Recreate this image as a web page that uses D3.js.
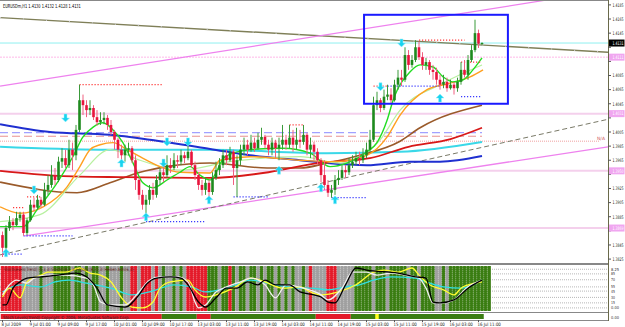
<!DOCTYPE html>
<html><head><meta charset="utf-8">
<script src="https://cdn.jsdelivr.net/npm/d3@7"></script>
<style>body{margin:0;background:#fff;overflow:hidden}svg{display:block;font-family:"DejaVu Sans",sans-serif}</style>
</head><body><svg id="c" width="625" height="327"></svg>
<script>
// ---------- DATA ----------
const symbolTitle = "EURUSDm,H1  1.4130 1.4132 1.4128 1.4131";
const opens = [1.3859,1.3841,1.3869,1.3878,1.3873,1.3883,1.3888,1.3862,1.3880,1.3902,
1.3898,1.3909,1.3902,1.3923,1.3930,1.3944,1.3937,1.3963,1.3968,1.3958,
1.3980,1.3972,1.4008,1.4050,1.4043,1.4036,1.4039,1.4026,1.4019,1.4022,
1.4025,1.4015,1.4005,1.3994,1.3980,1.3972,1.3980,1.3982,1.3965,1.3937,
1.3916,1.3902,1.3909,1.3923,1.3916,1.3937,1.3948,1.3944,1.3958,1.3954,
1.3965,1.3963,1.3972,1.3968,1.3977,1.3958,1.3944,1.3930,1.3923,1.3933,
1.3920,1.3940,1.3951,1.3958,1.3972,1.3965,1.3977,1.3954,1.3965,1.3980,
1.3987,1.3980,1.3990,1.3982,1.3994,1.3998,1.3987,1.3980,1.3990,1.3982,
1.3987,1.3994,1.3987,1.3997,1.3987,1.3994,1.3991,1.4001,1.3980,1.3987,
1.3977,1.3965,1.3944,1.3930,1.3919,1.3923,1.3937,1.3940,1.3951,1.3948,
1.3958,1.3963,1.3968,1.3965,1.3972,1.3980,1.3994,1.4043,1.4050,1.4039,
1.4055,1.4058,1.4050,1.4072,1.4082,1.4079,1.4114,1.4100,1.4107,1.4125,
1.4111,1.4100,1.4104,1.4093,1.4090,1.4079,1.4072,1.4076,1.4067,1.4072,
1.4067,1.4076,1.4093,1.4086,1.4107,1.4121,1.4145,1.4130];
const highs = [1.3864,1.3873,1.3886,1.3883,1.3892,1.3892,1.3892,1.3883,1.3909,1.3912,
1.3916,1.3913,1.3933,1.3944,1.3958,1.3954,1.3970,1.3982,1.3980,1.3994,
1.3990,1.4015,1.4072,1.4058,1.4050,1.4050,1.4043,1.4036,1.4033,1.4033,
1.4029,1.4022,1.4008,1.3997,1.3987,1.3987,1.3990,1.3985,1.3972,1.3940,
1.3923,1.3916,1.3930,1.3933,1.3944,1.3954,1.3956,1.3972,1.3968,1.3975,
1.3972,1.3980,1.3977,1.3985,1.3980,1.3963,1.3948,1.3937,1.3940,1.3937,
1.3948,1.3963,1.3968,1.3980,1.3980,1.3984,1.3980,1.3972,1.3987,1.3997,
1.3994,1.4001,1.3997,1.4004,1.4011,1.4001,1.3994,1.3997,1.3994,1.3997,
1.4015,1.4001,1.4015,1.4008,1.4011,1.4008,1.4015,1.4004,1.3997,1.3991,
1.3982,1.3968,1.3965,1.3937,1.3930,1.3944,1.3951,1.3958,1.3958,1.3968,
1.3972,1.3977,1.3977,1.3982,1.3990,1.4008,1.4055,1.4062,1.4053,1.4065,
1.4072,1.4067,1.4079,1.4093,1.4093,1.4125,1.4121,1.4114,1.4135,1.4133,
1.4118,1.4110,1.4107,1.4100,1.4096,1.4086,1.4086,1.4082,1.4079,1.4076,
1.4082,1.4104,1.4107,1.4114,1.4128,1.4164,1.4150,1.4132];
const lows = [1.3828,1.3838,1.3865,1.3866,1.3872,1.3878,1.3858,1.3859,1.3878,1.3892,
1.3895,1.3898,1.3900,1.3916,1.3926,1.3930,1.3934,1.3954,1.3954,1.3954,
1.3951,1.3965,1.4005,1.4029,1.4026,1.4029,1.4022,1.4014,1.4015,1.4016,
1.4008,1.4001,1.3980,1.3968,1.3965,1.3963,1.3972,1.3961,1.3923,1.3909,
1.3895,1.3890,1.3902,1.3909,1.3912,1.3930,1.3934,1.3940,1.3947,1.3951,
1.3954,1.3958,1.3961,1.3965,1.3954,1.3937,1.3923,1.3915,1.3916,1.3909,
1.3916,1.3937,1.3944,1.3954,1.3958,1.3963,1.3930,1.3913,1.3958,1.3972,
1.3972,1.3977,1.3977,1.3980,1.3987,1.3982,1.3972,1.3972,1.3968,1.3965,
1.3980,1.3980,1.3982,1.3977,1.3980,1.3982,1.3987,1.3972,1.3968,1.3965,
1.3958,1.3934,1.3923,1.3913,1.3912,1.3916,1.3930,1.3937,1.3940,1.3944,
1.3954,1.3958,1.3958,1.3961,1.3968,1.3977,1.3991,1.4036,1.4033,1.4036,
1.4050,1.4045,1.4048,1.4065,1.4070,1.4076,1.4093,1.4096,1.4104,1.4107,
1.4093,1.4093,1.4086,1.4079,1.4072,1.4065,1.4067,1.4062,1.4065,1.4058,
1.4062,1.4072,1.4082,1.4079,1.4104,1.4118,1.4124,1.4128];
const closes = [1.3841,1.3869,1.3878,1.3873,1.3883,1.3888,1.3862,1.3880,1.3902,1.3898,
1.3909,1.3902,1.3923,1.3930,1.3944,1.3937,1.3963,1.3968,1.3958,1.3980,
1.3972,1.4008,1.4050,1.4043,1.4036,1.4039,1.4026,1.4019,1.4022,1.4025,
1.4015,1.4005,1.3994,1.3980,1.3972,1.3980,1.3982,1.3965,1.3937,1.3916,
1.3902,1.3909,1.3923,1.3916,1.3937,1.3948,1.3944,1.3958,1.3954,1.3965,
1.3963,1.3972,1.3968,1.3977,1.3958,1.3944,1.3930,1.3923,1.3933,1.3920,
1.3940,1.3951,1.3958,1.3972,1.3965,1.3977,1.3954,1.3965,1.3980,1.3987,
1.3980,1.3990,1.3982,1.3994,1.3998,1.3987,1.3980,1.3990,1.3982,1.3987,
1.3994,1.3987,1.3997,1.3987,1.3994,1.3991,1.4001,1.3980,1.3987,1.3977,
1.3965,1.3944,1.3930,1.3919,1.3923,1.3937,1.3940,1.3951,1.3948,1.3958,
1.3963,1.3968,1.3965,1.3972,1.3980,1.3994,1.4043,1.4050,1.4039,1.4055,
1.4058,1.4050,1.4072,1.4082,1.4079,1.4114,1.4100,1.4107,1.4125,1.4111,
1.4100,1.4104,1.4093,1.4090,1.4079,1.4072,1.4076,1.4067,1.4072,1.4067,
1.4076,1.4093,1.4086,1.4107,1.4121,1.4145,1.4130,1.4131];

const priceTicks = [1.4185,1.4165,1.4145,1.4125,1.4105,1.4085,1.4065,1.4045,1.4025,1.4005,
1.3985,1.3965,1.3945,1.3925,1.3905,1.3885,1.3865,1.3845,1.3825];
const lastPrice = 1.4131;
const pinkLevels = [1.4111,1.4031,1.3950,1.3869];

const timeLabels = ["8 Jul 2009","9 Jul 01:00","9 Jul 09:00","9 Jul 17:00","10 Jul 01:00","10 Jul 09:00",
"10 Jul 17:00","13 Jul 03:00","13 Jul 11:00","13 Jul 19:00","14 Jul 03:00","14 Jul 11:00",
"14 Jul 19:00","15 Jul 03:00","15 Jul 11:00","15 Jul 19:00","16 Jul 03:00","16 Jul 11:00"];
const timeLabelBars = [0,8,16,24,32,40,48,56,64,72,80,88,96,104,112,120,128,136];

// moving averages: [bar, price]
const maBlue = [[-0.7,1.4016],[13.6,1.4005],[30.7,1.4001],[42.1,1.3994],[59.3,1.3981],[70.7,1.3972],[85,1.3965],[92.7,1.3961],[104.1,1.3958],[116.4,1.3963],[125,1.3963],[137,1.3971]];
const maRed = [[-0.7,1.3950],[16,1.3943],[34,1.3941],[59,1.3940],[76,1.3948],[90,1.3961],[105,1.3968],[116,1.3984],[128,1.3995],[137,1.4011]];
const maBrown = [[-0.7,1.3934],[21.3,1.3919],[30.7,1.3933],[39.3,1.3948],[47,1.3956],[59.3,1.3961],[75.6,1.3954],[85,1.3954],[92.7,1.3961],[102.1,1.3972],[113.6,1.3992],[119.3,1.4011],[137,1.4043]];
const maCyan = [[-0.7,1.3984],[27.9,1.3980],[59.3,1.3980],[92.7,1.3975],[113.6,1.3977],[137,1.3991]];
const maOrange = [[-0.7,1.3899],[5,1.3890],[11.6,1.3899],[18.4,1.3927],[22.1,1.3956],[25,1.3980],[27.9,1.3987],[31.6,1.3990],[35.6,1.3980],[39.3,1.3970],[45,1.3956],[50.7,1.3948],[59.3,1.3947],[62.1,1.3965],[70.7,1.3970],[85,1.3965],[94.4,1.3963],[104.1,1.3972],[109.9,1.3998],[113.6,1.4029],[121.3,1.4065],[127,1.4073],[133.6,1.4083],[137.3,1.4093]];
const maGreen = [[-0.7,1.3871],[5.9,1.3871],[9.9,1.3895],[15.6,1.3933],[20.1,1.3970],[23,1.3998],[25.9,1.4012],[28.7,1.4018],[31.6,1.4008],[34.4,1.3990],[37.3,1.3961],[40.1,1.3933],[43,1.3926],[47,1.3937],[50.7,1.3948],[53.6,1.3956],[56.4,1.3944],[59.3,1.3937],[63.6,1.3970],[70.7,1.3980],[80.1,1.3982],[87.9,1.3975],[93.6,1.3956],[98.4,1.3961],[104.1,1.3977],[107,1.3990],[109.9,1.4022],[111.6,1.4050],[116.4,1.4090],[119.3,1.4100],[123,1.4097],[125.9,1.4083],[128.7,1.4076],[131.6,1.4079],[134.4,1.4093],[137,1.4110]];
const maLightGreen = [[-0.7,1.3878],[10.7,1.3888],[22.1,1.3944],[30.7,1.3980],[39.3,1.3965],[50.7,1.3951],[65,1.3963],[85,1.3970],[96.4,1.3961],[107.9,1.3994],[113.6,1.4036],[125,1.4072],[137,1.4100]];

// trend lines: [[bar,price],[bar,price]]
const trendOlive = [[-0.7,1.4167],[173,1.4118]];
const trendUpperMagenta = [[-0.7,1.4070],[155.6,1.4192]];
const trendLowerMagenta = [[6.4,1.3858],[173,1.3984]];
const trendDashedGray = [[-0.7,1.3831],[173,1.4023]];
const cyanLevel = 1.4131;
const dashedLevels = [[1.4004,"#8a8aff"],[1.3999,"#e89090"]];
const dottedLevel = 1.3992;

// short dotted levels: [startBar, endBar, price]
const redDotted = [[22,46,1.4072],[106,110,1.4070],[119,132,1.4135],[131,137,1.4104],[3,6,1.3898],[7,11,1.3913],[82,86,1.4015]];
const blueDotted = [[0,6,1.3832],[6,20,1.3858],[41,58,1.3878],[66,76,1.3913],[94,104,1.3912],[110,125,1.4070],[131,137,1.4055]];

// signal arrows: [bar, price, direction]
const arrows = [[1,1.3834,"up"],[9,1.3923,"down"],[18,1.4025,"down"],[34,1.3961,"up"],[41,1.3885,"up"],[46,1.3961,"down"],[47,1.3991,"down"],[53,1.3991,"down"],[59,1.3909,"up"],[79,1.3951,"up"],[91,1.3926,"up"],[95,1.3909,"up"],[108,1.4069,"down"],[114,1.4131,"down"],[125,1.4053,"up"]];

// selection box: [startBar, endBar, topPrice, bottomPrice]
const boxArea = [103.3,144.4,1.4171,1.4045];

// indicator sub-window (0..100)
const histState = "rrrrrr"+"nnnnng"+"nnn"+"gggg"+"gnggngngg"+"nngnnngnn"+"rrnrrrnr"+"ngnngngn"+"rrrrrr"+"gggnggrgnggng"+"gngnggngngngnngnrnn"+"nn"+"rrr"+"nnnnng"+"ggggngggngggggnggnggggnngngggggggggggg";
const oscBlack = [[0,12],[1,12],[3,52],[5,67],[7,76],[11,79],[16,83],[21,88],[24,79],[27,52],[30,12],[35,7],[39,36],[41,60],[44,76],[48,79],[51,76],[53,60],[56,19],[58,7],[61,29],[64,52],[67,52],[70,67],[73,60],[75,71],[78,60],[82,60],[85,43],[89,36],[91,31],[93,19],[95,17],[98,60],[101,100],[104,95],[113,88],[118,79],[121,76],[123,19],[125,17],[129,24],[133,52],[137,71]];
const oscWhite = [[0,36],[2,60],[4,71],[7,64],[9,76],[13,83],[18,83],[24,76],[26,60],[28,19],[31,12],[35,12],[39,43],[42,71],[45,79],[50,79],[53,67],[55,19],[56,5],[58,12],[61,43],[64,55],[68,67],[71,76],[75,60],[78,29],[81,60],[86,52],[91,36],[93,24],[97,52],[100,90],[104,90],[107,83],[111,88],[115,83],[119,76],[121,52],[123,17],[126,17],[129,24],[133,55],[137,71]];
const oscYellow = [[0,31],[2,52],[5,29],[7,67],[11,83],[13,90],[18,90],[22,100],[25,88],[28,83],[31,67],[34,29],[37,7],[40,5],[43,19],[45,52],[48,67],[53,71],[55,48],[58,31],[61,36],[66,52],[71,76],[75,67],[80,52],[85,55],[88,43],[91,36],[96,43],[101,60],[106,90],[109,95],[113,90],[117,100],[119,83],[122,60],[126,48],[129,36],[131,52],[135,64],[137,67]];
const oscCyan = [[0,43],[5,60],[11,55],[15,67],[19,71],[24,64],[31,52],[37,36],[42,43],[49,60],[54,55],[58,43],[64,52],[71,71],[78,60],[85,52],[88,52],[93,48],[98,55],[102,60],[106,71],[111,79],[118,76],[121,67],[126,55],[131,52],[137,71]];
const oscLevels = [97,86,72,55,45,30,17,5];
const oscLevelLabels = ["8.25","85","70","55","45","30","15","0.00"];
// bottom trend strip: [startBar,endBar,state]
const stripSegs = [[0,45,"r"],[46,55,"g"],[56,59,"r"],[60,89,"g"],[90,99,"r"],[100,137,"g"],[107,107,"y"]];

// ---------- DRAW ----------
const svg = d3.select("#c");
const AX = 608, MAIN_B = 263, P_T = 266, P_B = 311, RX = 623.5;
const x = d3.scaleLinear().domain([0,137]).range([2.5,482]);
const y = d3.scaleLinear().domain([1.3825,1.4185]).range([259.1,4.9]);
const yo = d3.scaleLinear().domain([0,100]).range([310,268]);
function txt(sel, s, fs, tl){ sel.attr("font-size",fs).text(s); if(tl) sel.attr("textLength",tl).attr("lengthAdjust","spacingAndGlyphs"); return sel; }
// squeezed text via transform so its real box has the wanted width
function sqz(parent, xx, yy, s, col, fs, w, anchor){
  const t = parent.append("text").attr("font-size",fs).attr("fill",col).attr("text-anchor",anchor||"start").text(s);
  const nat = t.node().getComputedTextLength() || 1;
  const sx = Math.min(1, w/nat);
  t.attr("transform",`translate(${xx},${yy}) scale(${sx},1)`);
  return t;
}

const main = svg.append("g");
main.append("defs").append("clipPath").attr("id","mc").append("rect").attr("x",0).attr("y",0).attr("width",AX).attr("height",MAIN_B);
const g = main.append("g").attr("clip-path","url(#mc)");

pinkLevels.forEach((p,i)=>{
  g.append("line").attr("x1",0).attr("x2",AX).attr("y1",y(p)).attr("y2",y(p))
   .attr("stroke", i===0?"#ffb8e8":"#f4d0ec").attr("stroke-width", i===0?1:2)
   .attr("stroke-dasharray", i===0?"2,1":null);
});
g.append("line").attr("x1",0).attr("x2",AX).attr("y1",y(cyanLevel)).attr("y2",y(cyanLevel)).attr("stroke","#8ff0f0").attr("stroke-width",1);
dashedLevels.forEach(d=>{
  g.append("line").attr("x1",0).attr("x2",x(137)).attr("y1",y(d[0])).attr("y2",y(d[0])).attr("stroke",d[1]).attr("stroke-dasharray","8,4").attr("stroke-width",1);
});
g.append("line").attr("x1",0).attr("x2",600).attr("y1",y(dottedLevel)).attr("y2",y(dottedLevel)).attr("stroke","#f0a0a0").attr("stroke-dasharray","1,1");
sqz(svg, 597, y(dottedLevel)-1, "N/A", "#d06060", 4.5, 8);

const seg = (d)=> [[x(d[0][0]),y(d[0][1])],[x(d[1][0]),y(d[1][1])]];
function tline(d,col,w,dash){
  const s = seg(d);
  g.append("line").attr("x1",s[0][0]).attr("y1",s[0][1]).attr("x2",s[1][0]).attr("y2",s[1][1])
   .attr("stroke",col).attr("stroke-width",w).attr("stroke-dasharray",dash||null);
}
tline(trendOlive,"#7f7f58",1.4);
tline(trendOlive,"#c8c8c8",1.4,"1,22");
tline(trendUpperMagenta,"#ee82ee",1.3);
tline(trendLowerMagenta,"#ee82ee",1.3);
tline(trendDashedGray,"#7a7a68",1,"5,3");

const ml = d3.line().x(d=>x(d[0])).y(d=>y(d[1])).curve(d3.curveMonotoneX);
function ma(data,col,w,op){ g.append("path").attr("d",ml(data)).attr("fill","none").attr("stroke",col).attr("stroke-width",w).attr("opacity",op||1); }
ma(maCyan,"#3ad8e8",2);
ma(maBlue,"#1f2fd0",2);
ma(maBrown,"#9a5a2a",1.6);
ma(maRed,"#d81818",1.8);
ma(maLightGreen,"#b8f0a0",1.2);
ma(maOrange,"#ffa020",1.4);
ma(maGreen,"#22dd22",1.4);

redDotted.forEach(d=>g.append("line").attr("x1",x(d[0])).attr("x2",x(d[1])).attr("y1",y(d[2])).attr("y2",y(d[2])).attr("stroke","#ff3a3a").attr("stroke-width",1.2).attr("stroke-dasharray","1.2,1.8"));
blueDotted.forEach(d=>g.append("line").attr("x1",x(d[0])).attr("x2",x(d[1])).attr("y1",y(d[2])).attr("y2",y(d[2])).attr("stroke","#3a3aff").attr("stroke-width",1.2).attr("stroke-dasharray","1.2,1.8"));

const idx = d3.range(closes.length);
const bw = 2.6;
idx.forEach(i=>{
  const up = closes[i]>=opens[i];
  const col = up ? "#1e8a1e" : "#e8143c";
  g.append("line").attr("x1",x(i)).attr("x2",x(i)).attr("y1",y(highs[i])).attr("y2",y(lows[i])).attr("stroke",up?"#3a9a3a":"#f06080").attr("stroke-width",1);
  const t = y(Math.max(opens[i],closes[i])), b = y(Math.min(opens[i],closes[i]));
  g.append("rect").attr("x",x(i)-bw/2).attr("y",t).attr("width",bw).attr("height",Math.max(1,b-t)).attr("fill",col);
});

arrows.forEach(a=>{
  const cx = x(a[0]), cy = y(a[1]);
  const s = a[2]==="down"?1:-1;
  const p = `M${cx-1.5},${cy-4*s} L${cx+1.5},${cy-4*s} L${cx+1.5},${cy} L${cx+4},${cy} L${cx},${cy+4*s} L${cx-4},${cy} L${cx-1.5},${cy} Z`;
  g.append("path").attr("d",p).attr("fill","#19d3ee").attr("stroke","#9af0ff").attr("stroke-width",0.5);
});

g.append("rect").attr("x",x(boxArea[0])).attr("y",y(boxArea[2])).attr("width",x(boxArea[1])-x(boxArea[0])).attr("height",y(boxArea[3])-y(boxArea[2]))
 .attr("fill","none").attr("stroke","#1a1aff").attr("stroke-width",2);

sqz(svg, 3, 8, symbolTitle, "#000", 5.5, 78);

svg.append("line").attr("x1",0).attr("x2",AX).attr("y1",0.5).attr("y2",0.5).attr("stroke","#888");
svg.append("line").attr("x1",0).attr("x2",AX).attr("y1",MAIN_B+0.5).attr("y2",MAIN_B+0.5).attr("stroke","#888");
svg.append("line").attr("x1",AX+0.5).attr("x2",AX+0.5).attr("y1",0).attr("y2",321).attr("stroke","#6a6a4a");

const fmt = d3.format(".4f");
const labelled = pinkLevels.concat([lastPrice]);
priceTicks.forEach(p=>{
  svg.append("line").attr("x1",AX).attr("x2",AX+3).attr("y1",y(p)).attr("y2",y(p)).attr("stroke","#555");
  const hidden = labelled.some(l=>Math.abs(y(l)-y(p))<4.5);
  if(!hidden) sqz(svg, RX, y(p)+1.8, fmt(p), "#222", 4.8, 11, "end");
});
pinkLevels.forEach(p=>{
  svg.append("rect").attr("x",AX+1).attr("y",y(p)-3.5).attr("width",15.5).attr("height",7).attr("fill","#f0a6f0");
  sqz(svg, RX, y(p)+1.8, fmt(p), "#fff", 4.8, 11, "end");
});
svg.append("rect").attr("x",AX+1).attr("y",y(lastPrice)-3.5).attr("width",15.5).attr("height",7).attr("fill","#000");
sqz(svg, RX, y(lastPrice)+1.8, fmt(lastPrice), "#fff", 4.8, 11, "end");

// ---------- indicator panel ----------
const pg = svg.append("g");
pg.append("line").attr("x1",0).attr("x2",AX).attr("y1",264.5).attr("y2",264.5).attr("stroke","#888");
oscLevels.forEach((v,i)=>{
  pg.append("line").attr("x1",0).attr("x2",AX).attr("y1",yo(v)).attr("y2",yo(v)).attr("stroke","#999").attr("stroke-dasharray","1,1").attr("stroke-width",0.7);
  const s = oscLevelLabels[i];
  sqz(pg, AX+3, yo(v)+1.5, s, "#333", 4, s.length*2);
});
const stateCol = {r:"#e41b2a",g:"#3a7d12",n:"#a0a0a0",y:"#ffff20"};
histState.split("").forEach((s,i)=>{
  pg.append("rect").attr("x",x(i)-1.75).attr("y",P_T).attr("width",3.6).attr("height",P_B-P_T).attr("fill",stateCol[s]);
  pg.append("line").attr("x1",x(i)-1.75).attr("x2",x(i)-1.75).attr("y1",P_T).attr("y2",P_B).attr("stroke","#ffffff").attr("stroke-opacity",0.45).attr("stroke-width",0.6).attr("stroke-dasharray","1,1");
});
const ol = d3.line().x(d=>x(d[0])).y(d=>yo(d[1])).curve(d3.curveMonotoneX);
[[oscCyan,"#30e0e0"],[oscYellow,"#ffff30"],[oscWhite,"#f0f0f0"],[oscBlack,"#000"]].forEach(o=>{
  pg.append("path").attr("d",ol(o[0])).attr("fill","none").attr("stroke",o[1]).attr("stroke-width",1.3);
});
sqz(pg, 4, 271, "StochLevels(Trend) (5,3,3) Stoch(14,3,3) Ergodic(8,21,3) Heiken Ashi(6,2)", "#5a1010", 4.5, 130);
pg.append("line").attr("x1",0).attr("x2",AX).attr("y1",312.5).attr("y2",312.5).attr("stroke","#888");

stripSegs.forEach(s=>{
  pg.append("rect").attr("x",x(s[0])-1.75).attr("y",314).attr("width",x(s[1])-x(s[0])+3.5).attr("height",5).attr("fill",stateCol[s[2]]);
});
sqz(pg, 3, 318.5, "Stoch Levels(Trend)  Copyright © 2006, MetaQuotes Software Corp.", "#222", 4.3, 127);
pg.append("line").attr("x1",0).attr("x2",AX).attr("y1",320.5).attr("y2",320.5).attr("stroke","#888");
sqz(svg, AX+3, 318.5, "0.00", "#333", 4, 8);

timeLabels.forEach((t,i)=>{
  const xx = x(timeLabelBars[i]);
  svg.append("line").attr("x1",xx).attr("x2",xx).attr("y1",320).attr("y2",322).attr("stroke","#555");
  sqz(svg, xx-1, 326, t, "#222", 4.6, t.length*1.95);
});
</script></body></html>
